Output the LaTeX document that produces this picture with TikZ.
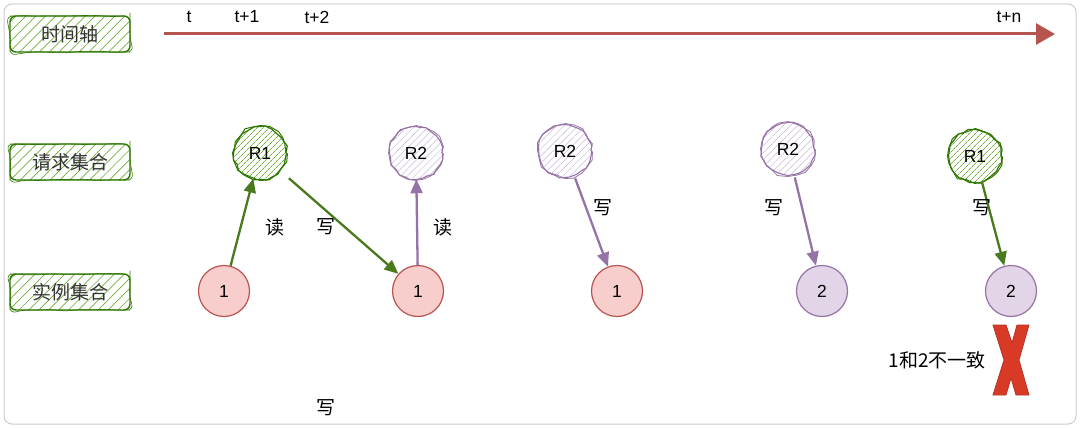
\documentclass[tikz,border=0pt]{standalone}
\usepackage{fontspec}
\setmainfont{Liberation Sans}
\newfontfamily\cjk{Noto Sans CJK SC}
\usetikzlibrary{arrows.meta,patterns.meta,decorations.pathmorphing}
\definecolor{axisred}{HTML}{B85450}
\definecolor{sketchgreen}{HTML}{2D7600}
\definecolor{hatchgreen}{HTML}{6FAE3A}
\definecolor{linkgreen}{HTML}{4A7A1E}
\definecolor{sketchpurple}{HTML}{9673A6}
\definecolor{hatchpurple}{HTML}{C9B8DD}
\definecolor{instred}{HTML}{F8CECC}
\definecolor{instpurple}{HTML}{E1D5E7}
\definecolor{crossred}{HTML}{D93A26}
\definecolor{crossedge}{HTML}{B0362A}

\begin{document}
\begin{tikzpicture}[x=1pt,y=-1pt,font=\fontsize{17.5}{20}\selectfont,
  lanebox/.style={minimum width=120,minimum height=36,rounded corners=6,
    pattern={Lines[angle=45,distance=7,line width=0.7]},pattern color=hatchgreen,
    draw=sketchgreen,line width=1.4,text=black!80,font=\cjk\fontsize{19}{22}\selectfont,
    postaction={draw=sketchgreen,line width=0.6,decorate,
      decoration={random steps,segment length=9,amplitude=0.9}}},
  reqgreen/.style={circle,minimum size=52,inner sep=0,
    pattern={Lines[angle=45,distance=4,line width=0.8]},pattern color=hatchgreen,
    postaction={draw=sketchgreen,line width=1.2,decorate,
      decoration={random steps,segment length=6,amplitude=1.3}},
    postaction={draw=sketchgreen,line width=1,decorate,
      decoration={random steps,segment length=8,amplitude=1.9}}},
  reqpurple/.style={circle,minimum size=52,inner sep=0,
    pattern={Lines[angle=45,distance=5,line width=0.5]},pattern color=hatchpurple,
    postaction={draw=sketchpurple,line width=1.1,decorate,
      decoration={random steps,segment length=6,amplitude=1.3}},
    postaction={draw=sketchpurple,line width=0.8,decorate,
      decoration={random steps,segment length=8,amplitude=1.8}}},
  instred/.style={circle,minimum size=51,inner sep=0,fill=instred,draw=axisred,line width=1.2},
  instpurple/.style={circle,minimum size=51,inner sep=0,fill=instpurple,draw=sketchpurple,line width=1.2},
  link/.style={line width=2.3,-{Triangle[length=14,width=12]}},
  tag/.style={font=\cjk\fontsize{19}{22}\selectfont}]
\useasboundingbox (0,0) rectangle (1080,428);
\draw[black!20, line width=1, rounded corners=8] (4,4) rectangle (1076,424);

% row labels
\node[lanebox] (axislabel) at (70,34) {时间轴};
\node[lanebox] (reqlabel) at (70,162) {请求集合};
\node[lanebox] (instlabel) at (70,292) {实例集合};

% time axis
\coordinate (axisstart) at (164,34);
\coordinate (axisend) at (1055,34);
\draw[axisred, line width=3, -{Triangle[length=19,width=21]}] (axisstart) -- (axisend);
\node (tick0) at (189,17) {t};
\node (tick1) at (247,17) {t+1};
\node (tick2) at (317,17) {t+2};
\node (tickn) at (1009,17) {t+n};

% requests
\node[reqgreen] (req1) at (260,153) {R1};
\node[reqpurple] (req2) at (416,153) {R2};
\node[reqpurple] (req3) at (565,151) {R2};
\node[reqpurple] (req4) at (788,149) {R2};
\node[reqgreen] (req5) at (975,156) {R1};

% instances
\node[instred] (inst1) at (224,291) {1};
\node[instred] (inst2) at (418,291) {1};
\node[instred] (inst3) at (617,291) {1};
\node[instpurple] (inst4) at (822,291) {2};
\node[instpurple] (inst5) at (1011,291) {2};

% reads and writes
\draw[link, linkgreen] (inst1) -- (req1);
\draw[link, linkgreen, shorten <=12] (req1) -- (inst2);
\draw[link, sketchpurple] (inst2) -- (req2);
\draw[link, sketchpurple, shorten <=3] (req3) -- (inst3);
\draw[link, sketchpurple, shorten <=3] (req4) -- (inst4);
\draw[link, linkgreen] (req5) -- (inst5);

\node[tag] (read1) at (275,227) {读};
\node[tag] (write1) at (326,227) {写};
\node[tag] (read2) at (443,227) {读};
\node[tag] (write2) at (603,208) {写};
\node[tag] (write3) at (774,208) {写};
\node[tag] (write4) at (982,208) {写};
\node[tag] (write5) at (326,408) {写};

% mismatch
\node[tag] (mismatch) at (937,360) {1和2不一致};
\draw[fill=crossred, draw=crossedge, line width=0.8]
  (993,325) -- (1006,325) -- (1012,343) -- (1017,325) -- (1029,325) -- (1019,360)
  -- (1029,395) -- (1016,395) -- (1011,378) -- (1006,395) -- (993,395) -- (1004,360) -- cycle;
\end{tikzpicture}
\end{document}
